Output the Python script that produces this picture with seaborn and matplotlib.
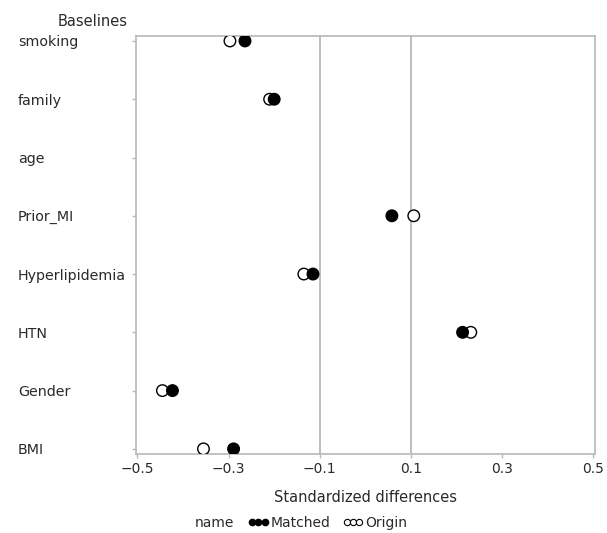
import numpy as np
import pandas as pd
import seaborn as sns
import matplotlib.pyplot as plt
from matplotlib.lines import Line2D

baselines = ["smoking", "family", "age", "Prior_MI", "Hyperlipidemia", "HTN", "Gender", "BMI"]
origin = [-0.297, -0.21, np.nan, 0.106, -0.135, 0.231, -0.445, -0.355]
matched = [-0.264, -0.20, np.nan, 0.058, -0.115, 0.213, -0.423, -0.289]
xticks = [-0.5, -0.3, -0.1, 0.1, 0.3, 0.5]

# origin rows first so the filled markers sit on top
df = pd.concat([
    pd.DataFrame({"Baselines": baselines, "value": origin, "name": "Origin"}),
    pd.DataFrame({"Baselines": baselines, "value": matched, "name": "Matched"}),
], ignore_index=True)

sns.set_style("white")
plt.rcParams["font.family"] = ["DejaVu Sans"]
grey = "#b8b8b8"
txt = "#2a2a2a"

fig = plt.figure(figsize=(6.07, 5.33), dpi=100)
ax = fig.add_axes([0.224, 0.148, 0.756, 0.785])

for x in [-0.1, 0.1]:
    ax.axvline(x, color=grey, lw=1.3, zorder=0)

sns.stripplot(data=df, x="value", y="Baselines", hue="name", order=baselines,
              hue_order=["Origin", "Matched"], palette={"Origin": "white", "Matched": "black"},
              jitter=False, dodge=False, size=8.3, linewidth=1, edgecolor="black",
              legend=False, ax=ax, zorder=3)

ax.set_xlim(-0.503, 0.503)
ax.set_ylim(len(baselines) - 1 + 0.09, -0.09)
ax.set_xticks(xticks)
ax.set_xticklabels(["\u22120.5", "\u22120.3", "\u22120.1", "0.1", "0.3", "0.5"])

for s in ax.spines.values():
    s.set_color(grey)
    s.set_linewidth(1.2)

ax.tick_params(axis="x", length=3, width=1, color=grey, labelsize=10, labelcolor=txt, pad=3, bottom=True)
ax.tick_params(axis="y", length=3, width=1, color=grey, labelsize=10.3, labelcolor=txt, pad=82, left=True)
for lab in ax.get_yticklabels():
    lab.set_horizontalalignment("left")

ax.set_xlabel("Standardized differences", fontsize=10.5, color=txt, labelpad=10)
ax.set_ylabel("Baselines", rotation=0, fontsize=10.5, color=txt, ha="center", va="center")
ax.yaxis.set_label_coords(-0.095, 1.034)

handles = [
    Line2D([], [], ls="none", marker="o", markersize=4.5, markerfacecolor="black", markeredgecolor="black"),
    Line2D([], [], ls="none", marker="o", markersize=4.5, markerfacecolor="white", markeredgecolor="black", markeredgewidth=0.8),
]
fig.text(195 / 607, 1 - 523 / 533, "name", fontsize=10, color=txt, ha="left", va="center")
fig.legend(handles, ["Matched", "Origin"], loc="center left", bbox_to_anchor=(248 / 607, 1 - 523 / 533),
           ncol=2, frameon=False, numpoints=3, handlelength=1.5, handletextpad=0.1, columnspacing=0.9,
           borderpad=0, borderaxespad=0, prop={"size": 10}, labelcolor=txt)

fig.savefig("out.png", dpi=100)
